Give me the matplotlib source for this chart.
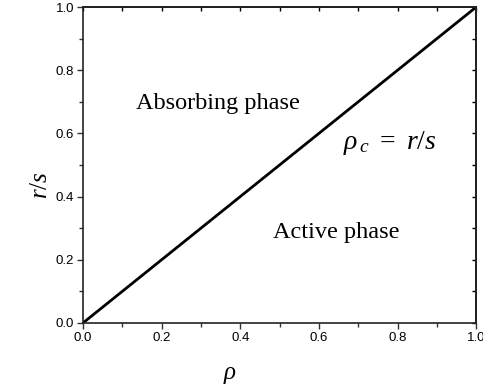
import numpy as np
import matplotlib.pyplot as plt
from matplotlib.ticker import MultipleLocator

# phase boundary rho_c = r/s
rho = [0.0, 1.0]
rs = [0.0, 1.0]

plt.rcParams['mathtext.fontset'] = 'custom'
plt.rcParams['mathtext.rm'] = 'Liberation Serif'
plt.rcParams['mathtext.it'] = 'Liberation Serif:italic'

fig = plt.figure(figsize=(4.83, 3.89), dpi=100)
ax = fig.add_axes([0.172, 0.170, 0.814, 0.812])

ax.plot(rho, rs, color='black', lw=2.0, solid_capstyle='butt')

ax.set_xlim(0, 1)
ax.set_ylim(0, 1)
ax.xaxis.set_major_locator(MultipleLocator(0.2))
ax.xaxis.set_minor_locator(MultipleLocator(0.1))
ax.yaxis.set_major_locator(MultipleLocator(0.2))
ax.yaxis.set_minor_locator(MultipleLocator(0.1))

for s in ax.spines.values():
    s.set_linewidth(1.2)
    s.set_color('#222222')

ax.tick_params(which='both', direction='out', top=False, right=False,
               labelsize=9.5, width=1.0, color='#333333', pad=2.5)
ax.tick_params(which='major', length=4)
ax.tick_params(which='minor', length=3)
for lab in ax.get_xticklabels() + ax.get_yticklabels():
    lab.set_family('Liberation Sans')

# inward ticks on top and right
sec_x = ax.secondary_xaxis('top')
sec_x.xaxis.set_major_locator(MultipleLocator(0.2))
sec_x.xaxis.set_minor_locator(MultipleLocator(0.1))
sec_x.tick_params(which='both', direction='in', labeltop=False, length=3, width=1.0)
sec_x.spines['top'].set_linewidth(1.2)
sec_y = ax.secondary_yaxis('right')
sec_y.yaxis.set_major_locator(MultipleLocator(0.2))
sec_y.yaxis.set_minor_locator(MultipleLocator(0.1))
sec_y.tick_params(which='both', direction='in', labelright=False, length=3, width=1.0)
sec_y.spines['right'].set_linewidth(1.2)

ax.text(0.343, 0.696, 'Absorbing phase', family='Liberation Serif', fontsize=17.5,
        ha='center', va='center')
ax.text(0.644, 0.285, 'Active phase', family='Liberation Serif', fontsize=17.5,
        ha='center', va='center')
ax.text(0.78, 0.57, r'$\rho_{\,c}$ $=$ $r/s$', family='Liberation Serif', fontsize=20,
        ha='center', va='center')

fig.text(40 / 483, 1 - 185 / 389, r'$r/s$', fontsize=18, rotation=90,
         ha='center', va='center')
fig.text(230 / 483, 1 - 374 / 389, r'$\rho$', fontsize=18, ha='center', va='center')

fig.savefig('out.png', dpi=100)
